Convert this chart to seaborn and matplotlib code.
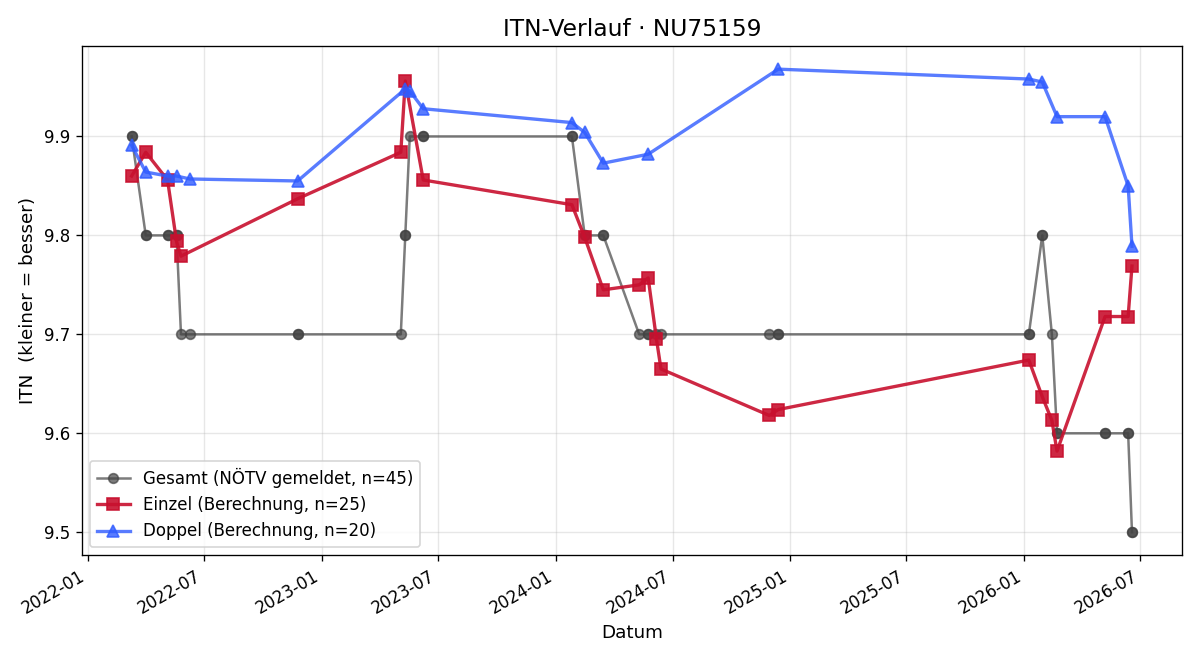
import matplotlib
matplotlib.use('Agg')
import matplotlib.dates as mdates
import pandas as pd
import seaborn as sns
from matplotlib import pyplot as plt

# Gesamt: one point per match (Einzel + Doppel), several share a date
gesamt_dates = [
    '2022-03-10', '2022-03-10', '2022-04-01', '2022-04-01', '2022-05-05', '2022-05-05',
    '2022-05-19', '2022-05-19', '2022-05-26', '2022-06-09', '2022-11-24', '2022-11-24',
    '2023-05-04', '2023-05-11', '2023-05-11', '2023-05-18', '2023-06-08', '2023-06-08',
    '2024-01-26', '2024-01-26', '2024-02-15', '2024-02-15', '2024-03-15', '2024-03-15',
    '2024-05-10', '2024-05-24', '2024-05-24', '2024-06-06', '2024-06-13', '2024-11-29',
    '2024-12-13', '2024-12-13', '2026-01-08', '2026-01-08', '2026-01-29', '2026-01-29',
    '2026-02-13', '2026-02-21', '2026-02-21', '2026-05-07', '2026-05-07', '2026-06-12',
    '2026-06-12', '2026-06-18', '2026-06-18',
]
gesamt_itn = [
    9.9, 9.9, 9.8, 9.8, 9.8, 9.8,
    9.8, 9.8, 9.7, 9.7, 9.7, 9.7,
    9.7, 9.8, 9.8, 9.9, 9.9, 9.9,
    9.9, 9.9, 9.8, 9.8, 9.8, 9.8,
    9.7, 9.7, 9.7, 9.7, 9.7, 9.7,
    9.7, 9.7, 9.7, 9.7, 9.8, 9.8,
    9.7, 9.6, 9.6, 9.6, 9.6, 9.6,
    9.6, 9.5, 9.5,
]

einzel_dates = [
    '2022-03-10', '2022-04-01', '2022-05-05', '2022-05-19', '2022-05-26',
    '2022-11-24', '2023-05-04', '2023-05-11', '2023-06-08', '2024-01-26',
    '2024-02-15', '2024-03-15', '2024-05-10', '2024-05-24', '2024-06-06',
    '2024-06-13', '2024-11-29', '2024-12-13', '2026-01-08', '2026-01-29',
    '2026-02-13', '2026-02-21', '2026-05-07', '2026-06-12', '2026-06-18',
]
einzel_itn = [
    9.860, 9.884, 9.856, 9.794, 9.779,
    9.837, 9.884, 9.956, 9.856, 9.831,
    9.798, 9.745, 9.750, 9.757, 9.695,
    9.665, 9.618, 9.624, 9.674, 9.637,
    9.613, 9.582, 9.718, 9.718, 9.769,
]

doppel_dates = [
    '2022-03-10', '2022-04-01', '2022-05-05', '2022-05-19', '2022-06-09',
    '2022-11-24', '2023-05-11', '2023-05-18', '2023-06-08', '2024-01-26',
    '2024-02-15', '2024-03-15', '2024-05-24', '2024-12-13', '2026-01-08',
    '2026-01-29', '2026-02-21', '2026-05-07', '2026-06-12', '2026-06-18',
]
doppel_itn = [
    9.891, 9.864, 9.860, 9.860, 9.857,
    9.855, 9.948, 9.946, 9.928, 9.914,
    9.904, 9.873, 9.882, 9.968, 9.958,
    9.955, 9.920, 9.920, 9.850, 9.789,
]

series = [
    (gesamt_dates, gesamt_itn, 'Gesamt (NÖTV gemeldet, n=45)',
     dict(color='#444444', alpha=0.7, linewidth=1.5, marker='o', markersize=5.8)),
    (einzel_dates, einzel_itn, 'Einzel (Berechnung, n=25)',
     dict(color='#c8102e', alpha=0.9, linewidth=2.0, marker='s', markersize=6.8)),
    (doppel_dates, doppel_itn, 'Doppel (Berechnung, n=20)',
     dict(color='#2f5bff', alpha=0.8, linewidth=2.0, marker='^', markersize=6.8)),
]

fig, ax = plt.subplots(figsize=(10, 5.5), dpi=120)

for dates, values, label, style in series:
    df = pd.DataFrame({'datum': pd.to_datetime(dates), 'itn': values})
    sns.lineplot(
        data=df, x='datum', y='itn', ax=ax,
        estimator=None, errorbar=None, sort=False,
        label=label, markeredgecolor=style['color'], markeredgewidth=1,
        **style,
    )

ax.xaxis.set_major_locator(mdates.MonthLocator(bymonth=[1, 7]))
ax.xaxis.set_major_formatter(mdates.DateFormatter('%Y-%m'))
ax.grid(True, alpha=0.3)

ax.set_title('ITN-Verlauf · NU75159', fontsize=14)
ax.set_xlabel('Datum', fontsize=11)
ax.set_ylabel('ITN  (kleiner = besser)', fontsize=11)
ax.legend(loc='lower left')
fig.autofmt_xdate()
plt.tight_layout()
plt.savefig('out.png', dpi=120)
plt.close()
